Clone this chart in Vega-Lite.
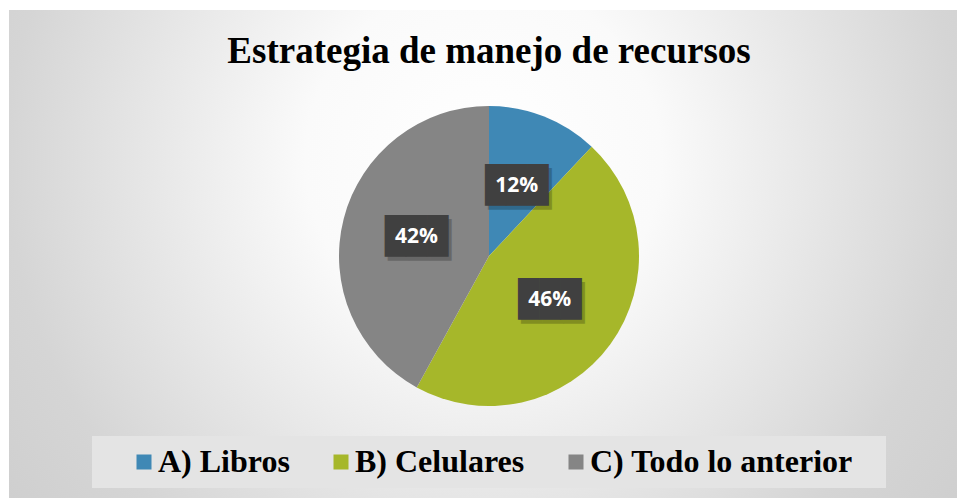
{
  "$schema": "https://vega.github.io/schema/vega-lite/v6.json",
  "width": 957,
  "height": 498,
  "autosize": {"type": "fit", "contains": "padding"},
  "padding": {"left": 9, "top": 10, "right": 0, "bottom": 0},
  "background": "white",
  "title": {
    "text": "Estrategia de manejo de recursos",
    "font": "Liberation Serif",
    "fontSize": 37,
    "fontWeight": "bold",
    "color": "black",
    "anchor": "middle",
    "frame": "group",
    "baseline": "alphabetic",
    "offset": -54,
    "dy": 36,
    "dx": 6
  },
  "config": {
    "view": {"stroke": "#c4c4c4", "strokeWidth": 1}
  },
  "data": {
    "values": [
      {"cat": "A) Libros", "value": 12, "label": "12%", "ord": 1},
      {"cat": "B) Celulares", "value": 46, "label": "46%", "ord": 2},
      {"cat": "C) Todo lo anterior", "value": 42, "label": "42%", "ord": 3}
    ]
  },
  "layer": [
    {
      "data": {"values": [{"bg": 1}]},
      "mark": {
        "type": "rect",
        "color": {
          "gradient": "radial",
          "x1": 0.5, "y1": 0.4, "r1": 0,
          "x2": 0.5, "y2": 0.4, "r2": 0.75,
          "stops": [
            {"offset": 0, "color": "#ffffff"},
            {"offset": 0.25, "color": "#fafafa"},
            {"offset": 0.67, "color": "#d5d5d5"},
            {"offset": 1, "color": "#c8c8c8"}
          ]
        }
      },
      "encoding": {}
    },
    {
      "mark": {"type": "arc", "outerRadius": 150, "xOffset": 6, "yOffset": 2, "stroke": null},
      "encoding": {
        "theta": {"field": "value", "type": "quantitative", "stack": true},
        "order": {"field": "ord", "type": "quantitative"},
        "color": {
          "field": "cat",
          "type": "nominal",
          "scale": {
            "domain": ["A) Libros", "B) Celulares", "C) Todo lo anterior"],
            "range": ["#3F88B5", "#A6B72A", "#858585"]
          },
          "legend": {
            "orient": "none",
            "legendX": 83,
            "legendY": 426,
            "direction": "horizontal",
            "columns": 3,
            "columnPadding": 35,
            "title": " ",
            "titleOrient": "left",
            "titleFontSize": 4,
            "titlePadding": 26,
            "padding": 10,
            "fillColor": "#e4e4e4",
            "symbolType": "square",
            "symbolSize": 225,
            "symbolStrokeWidth": 0,
            "labelOffset": -2,
            "labelFont": "Liberation Serif",
            "labelFontSize": 32,
            "labelFontWeight": "bold",
            "labelColor": "black",
            "labelLimit": 400,
            "labelExpr": "datum.label == 'C) Todo lo anterior' ? datum.label + '\u2800' : datum.label"
          }
        }
      }
    },
    {
      "mark": {"type": "text", "text": "███", "font": "DejaVu Sans Mono", "fontSize": 35, "radius": 75, "xOffset": 9, "yOffset": 6, "color": "black", "opacity": 0.22},
      "encoding": {
        "theta": {"field": "value", "type": "quantitative", "stack": true},
        "order": {"field": "ord", "type": "quantitative"},
        "detail": {"field": "cat", "type": "nominal"}
      }
    },
    {
      "mark": {"type": "text", "text": "███", "font": "DejaVu Sans Mono", "fontSize": 35, "radius": 75, "xOffset": 6, "yOffset": 2, "color": "#404040"},
      "encoding": {
        "theta": {"field": "value", "type": "quantitative", "stack": true},
        "order": {"field": "ord", "type": "quantitative"},
        "detail": {"field": "cat", "type": "nominal"}
      }
    },
    {
      "mark": {"type": "text", "font": "Open Sans", "fontSize": 21, "fontWeight": "bold", "radius": 75, "xOffset": 6, "yOffset": 2, "color": "white"},
      "encoding": {
        "theta": {"field": "value", "type": "quantitative", "stack": true},
        "order": {"field": "ord", "type": "quantitative"},
        "detail": {"field": "cat", "type": "nominal"},
        "text": {"field": "label", "type": "nominal"}
      }
    }
  ]
}
